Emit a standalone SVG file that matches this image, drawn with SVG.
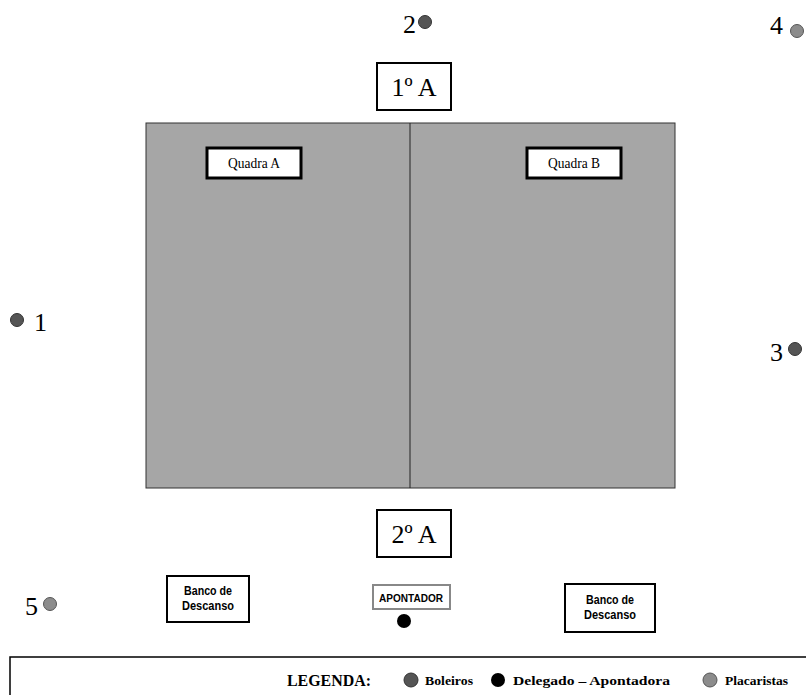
<svg xmlns="http://www.w3.org/2000/svg" width="806" height="695" viewBox="0 0 806 695">
<style>
.serif{font-family:"Liberation Serif","Times New Roman",serif;fill:#000}
.sans{font-family:"Liberation Sans",Arial,sans-serif;fill:#000;font-weight:bold}
.box{fill:#fff;stroke:#000;stroke-width:2}
.thick{fill:#fff;stroke:#000;stroke-width:3}
.dark{fill:#555;stroke:#333;stroke-width:1}
.light{fill:#8c8c8c;stroke:#555;stroke-width:1}
.num{font-size:26px}
</style>
<rect width="806" height="695" fill="#fff"/>
<g id="court">
<rect x="146" y="123" width="529" height="365" fill="#a6a6a6" stroke="#333" stroke-width="1"/>
<line x1="410" y1="123" x2="410" y2="488" stroke="#222" stroke-width="1"/>
</g>
<g id="quadraA"><rect class="thick" x="207" y="148" width="94" height="30"/><text class="serif" x="254" y="168" font-size="14" text-anchor="middle" textLength="52" lengthAdjust="spacingAndGlyphs">Quadra A</text></g>
<g id="quadraB"><rect class="thick" x="527" y="148" width="94" height="30"/><text class="serif" x="574" y="168" font-size="14" text-anchor="middle" textLength="52" lengthAdjust="spacingAndGlyphs">Quadra B</text></g>
<g id="a1"><rect class="box" x="377" y="63" width="74" height="47"/><text class="serif" x="414" y="96" font-size="26" text-anchor="middle">1º A</text></g>
<g id="a2"><rect class="box" x="377" y="510" width="74" height="47"/><text class="serif" x="414" y="543" font-size="26" text-anchor="middle">2º A</text></g>
<g id="apontador"><rect x="373" y="585" width="77" height="24" fill="#fff" stroke="#888" stroke-width="2"/><text class="sans" x="411" y="602" font-size="11" text-anchor="middle" textLength="64" lengthAdjust="spacingAndGlyphs">APONTADOR</text><circle cx="404" cy="621" r="7" fill="#000"/></g>
<g id="bancoA"><rect class="box" x="167" y="576" width="82" height="46"/><text class="sans" font-size="12" text-anchor="middle"><tspan x="208" y="595" textLength="48" lengthAdjust="spacingAndGlyphs">Banco de</tspan><tspan x="208" y="610" textLength="52" lengthAdjust="spacingAndGlyphs">Descanso</tspan></text></g>
<g id="bancoB"><rect class="box" x="565" y="584" width="90" height="48"/><text class="sans" font-size="12" text-anchor="middle"><tspan x="610" y="604" textLength="48" lengthAdjust="spacingAndGlyphs">Banco de</tspan><tspan x="610" y="619" textLength="52" lengthAdjust="spacingAndGlyphs">Descanso</tspan></text></g>
<g id="p1"><circle class="dark" cx="17" cy="320" r="6.5"/><text class="serif num" x="34" y="331">1</text></g>
<g id="p2"><circle class="dark" cx="425" cy="22" r="6.5"/><text class="serif num" x="403" y="33">2</text></g>
<g id="p3"><circle class="dark" cx="795" cy="349" r="6.5"/><text class="serif num" x="770" y="361">3</text></g>
<g id="p4"><circle class="light" cx="797" cy="31" r="6.5"/><text class="serif num" x="770" y="34">4</text></g>
<g id="p5"><circle class="light" cx="50" cy="604" r="6.5"/><text class="serif num" x="25" y="615">5</text></g>
<g id="legend">
<path d="M10 695 V657 H806" fill="none" stroke="#000" stroke-width="1.5"/>
<text class="serif" x="287" y="686" font-size="17" font-weight="bold" textLength="84" lengthAdjust="spacingAndGlyphs">LEGENDA:</text>
<circle class="dark" cx="411" cy="680" r="7"/>
<text class="serif" x="425" y="685" font-size="13" font-weight="bold" textLength="48" lengthAdjust="spacingAndGlyphs">Boleiros</text>
<circle cx="498" cy="680" r="7" fill="#000"/>
<text class="serif" x="513" y="685" font-size="13" font-weight="bold" textLength="157" lengthAdjust="spacingAndGlyphs">Delegado – Apontadora</text>
<circle class="light" cx="710" cy="680" r="7"/>
<text class="serif" x="725" y="685" font-size="13" font-weight="bold" textLength="63" lengthAdjust="spacingAndGlyphs">Placaristas</text>
</g>
</svg>
